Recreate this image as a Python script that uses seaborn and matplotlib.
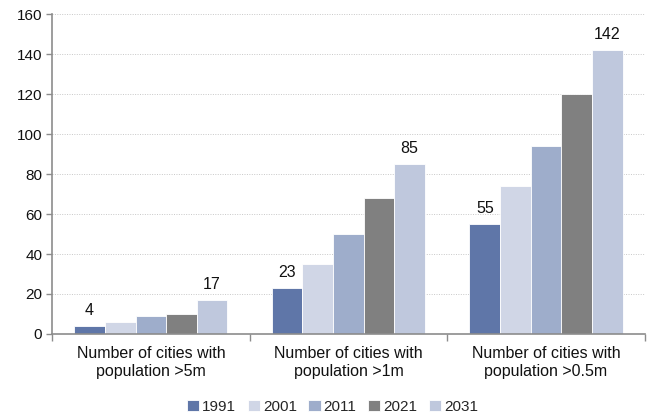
import matplotlib
matplotlib.use("Agg")
import matplotlib.pyplot as plt
import seaborn as sns
import pandas as pd

categories = ["Number of cities with\npopulation >5m",
              "Number of cities with\npopulation >1m",
              "Number of cities with\npopulation >0.5m"]
years = ["1991", "2001", "2011", "2021", "2031"]
v1991 = [4, 23, 55]
v2001 = [6, 35, 74]
v2011 = [9, 50, 94]
v2021 = [10, 68, 120]
v2031 = [17, 85, 142]
labelled_years = ["1991", "2031"]

palette = ["#5f76a8", "#d0d6e6", "#9eadcb", "#808080", "#bfc8dd"]

rows = []
for yr, vals in zip(years, [v1991, v2001, v2011, v2021, v2031]):
    for cat, v in zip(categories, vals):
        rows.append({"category": cat, "year": yr, "value": v})
df = pd.DataFrame(rows)

sns.set_theme(style="white")
plt.rcParams["font.family"] = ["Liberation Sans", "DejaVu Sans"]

fig = plt.figure(figsize=(6.52, 4.13), dpi=100)
ax = fig.add_axes([0.0798, 0.1913, 0.9092, 0.7747])

sns.barplot(data=df, x="category", y="value", hue="year", hue_order=years,
            palette=palette, width=0.775, saturation=1, edgecolor="white",
            linewidth=0.6, ax=ax, legend=True)

ax.set_ylim(0, 160)
ax.set_yticks(range(0, 161, 20))
ax.set_xlim(-0.5, 2.5)
ax.set_xlabel("")
ax.set_ylabel("")
ax.grid(axis="y", color="#c8c8c8", linestyle=(0, (1, 1.5)), linewidth=0.7)
ax.set_axisbelow(True)

for side in ["top", "right"]:
    ax.spines[side].set_visible(False)
for side in ["left", "bottom"]:
    ax.spines[side].set_color("#8c8c8c")
    ax.spines[side].set_linewidth(1.2)

ax.tick_params(axis="y", length=4, width=1, color="#8c8c8c", labelsize=11,
               labelcolor="#111111", pad=3, left=True)
ax.tick_params(axis="x", length=0, labelsize=11.5, labelcolor="#111111", pad=9)
# minor ticks mark the boundaries between categories
ax.set_xticks([-0.5, 0.5, 1.5, 2.5], minor=True)
ax.tick_params(axis="x", which="minor", length=5, width=1, color="#8c8c8c", bottom=True)

# value labels on the first and last year of each group
for cont, yr in zip(ax.containers, years):
    if yr in labelled_years:
        ax.bar_label(cont, fmt="%d", padding=6, fontsize=11.5, color="#111111")

handles, labels = ax.get_legend_handles_labels()
ax.get_legend().remove()
fig.legend(handles, labels, loc="lower center", bbox_to_anchor=(0.51, -0.035),
           ncol=5, frameon=False, fontsize=11, handlelength=0.8,
           handleheight=0.8, handletextpad=0.2, columnspacing=0.75)

fig.savefig("out.png", dpi=100)
